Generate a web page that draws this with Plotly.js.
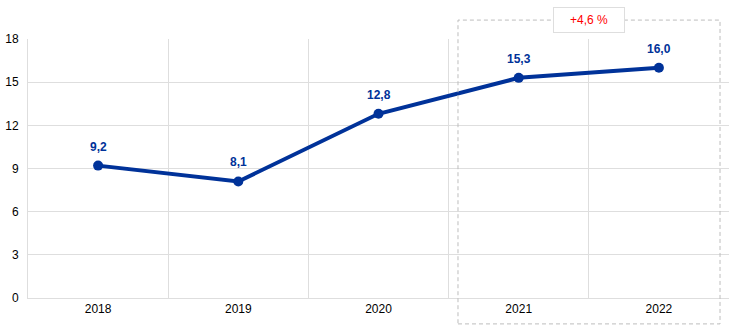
<!DOCTYPE html>
<html><head><meta charset="utf-8">
<script src="https://cdn.plot.ly/plotly-3.0.1.min.js"></script>
<style>html,body{margin:0;padding:0;background:#fff}</style>
</head><body><div id="chart" style="width:744px;height:329px"></div>
<script>
const years = ["2018","2019","2020","2021","2022"];
const values = [9.2, 8.1, 12.8, 15.3, 16.0];
const valueLabels = ["9,2","8,1","12,8","15,3","16,0"];
const yTicks = [0,3,6,9,12,15,18];
const changeLabel = "+4,6 %";

const blue = "#003299";
const trace = {
  x: years, y: values, type: "scatter", mode: "lines+markers",
  line: {color: blue, width: 4},
  marker: {color: blue, size: 10},
  hoverinfo: "none", cliponaxis: false
};
const labelAnns = years.map((yr, i) => ({
  xref: "x", yref: "y", x: i, y: values[i], text: valueLabels[i], showarrow: false,
  yshift: 19, xanchor: "center", yanchor: "middle",
  font: {family: "Liberation Sans, Arial, sans-serif", size: 12, color: blue, weight: "bold"}
}));
const layout = {
  width: 744, height: 329,
  margin: {l: 28, r: 15, t: 39, b: 31},
  paper_bgcolor: "#fff", plot_bgcolor: "#fff",
  font: {family: "Liberation Sans, Arial, sans-serif", size: 12, color: "#000"},
  showlegend: false,
  xaxis: {type: "category", tickson: "boundaries", showgrid: true, gridcolor: "#dedede", gridwidth: 1,
          ticks: "", showline: true, linecolor: "#dedede", range: [-0.5, 4.5], fixedrange: true,
          tickfont: {size: 12, color: "#000"}},
  yaxis: {range: [0, 18], tickvals: yTicks, ticktext: yTicks.map(String), showgrid: true, gridcolor: "#dedede",
          zeroline: false, showline: true, linecolor: "#dedede", ticks: "", ticklabelstandoff: 6,
          tickfont: {size: 12, color: "#000"}},
  shapes: [{type: "rect", xref: "x", yref: "paper", x0: 2.567, x1: 4.436, y0: -0.1, y1: 1.073,
            line: {color: "#bdbdbd", width: 1, dash: "4px,3px"}, fillcolor: "rgba(0,0,0,0)", layer: "above"}],
  annotations: labelAnns.concat([{xref: "x", yref: "paper", x: 3.5, y: 1.073, text: changeLabel, showarrow: false,
                 font: {size: 12, color: "#ff0000"}, bgcolor: "#fff", bordercolor: "#dedede", borderwidth: 1,
                 borderpad: 5, width: 60, xanchor: "center", yanchor: "middle"}])
};
Plotly.newPlot("chart", [trace], layout, {displayModeBar: false, staticPlot: true});
</script></body></html>
